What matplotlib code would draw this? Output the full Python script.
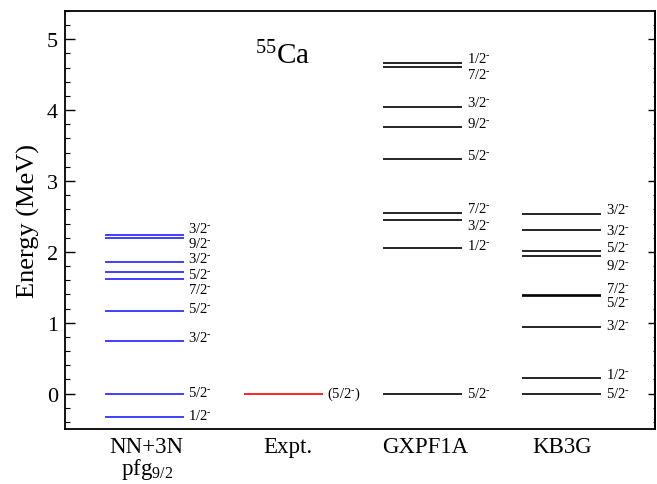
import matplotlib
matplotlib.use("Agg")
import matplotlib.pyplot as plt
from matplotlib.ticker import MultipleLocator

plt.rcParams['font.family'] = ['Liberation Serif', 'DejaVu Serif']
plt.rcParams['mathtext.fontset'] = 'custom'
plt.rcParams['mathtext.rm'] = 'Liberation Serif'
plt.rcParams['mathtext.it'] = 'Liberation Serif:italic'

# level schemes (MeV), spins and where each spin label sits
categories = ["NN+3N\npfg$_{9/2}$", "Expt.", "GXPF1A", "KB3G"]

nn_levels = [2.24, 2.195, 1.85, 1.72, 1.61, 1.17, 0.74, 0.0, -0.33]
nn_spins = ["3/2", "9/2", "3/2", "5/2", "7/2", "5/2", "3/2", "5/2", "1/2"]
nn_label_y = [2.34, 2.13, 1.92, 1.70, 1.49, 1.22, 0.80, 0.03, -0.29]

exp_levels = [0.0]
exp_spins = ["(5/2)"]
exp_label_y = [0.02]

gx_levels = [4.66, 4.61, 4.04, 3.76, 3.31, 2.55, 2.45, 2.05, 0.0]
gx_spins = ["1/2", "7/2", "3/2", "9/2", "5/2", "7/2", "3/2", "1/2", "5/2"]
gx_label_y = [4.74, 4.515, 4.12, 3.83, 3.38, 2.63, 2.39, 2.11, 0.02]

kb_levels = [2.54, 2.31, 2.005, 1.935, 1.39, 1.38, 0.935, 0.225, 0.0]
kb_spins = ["3/2", "3/2", "5/2", "9/2", "7/2", "5/2", "3/2", "1/2", "5/2"]
kb_label_y = [2.62, 2.32, 2.08, 1.82, 1.50, 1.30, 0.97, 0.28, 0.02]

schemes = [
    (nn_levels, nn_spins, nn_label_y, '#1f1fff'),
    (exp_levels, exp_spins, exp_label_y, '#ff0000'),
    (gx_levels, gx_spins, gx_label_y, 'black'),
    (kb_levels, kb_spins, kb_label_y, 'black'),
]

fig = plt.figure(figsize=(6.57, 4.85), dpi=100)
ax = fig.add_axes([0.099, 0.1134, 0.898, 0.862])

half = 0.284   # half width of a level line
gap = 0.032    # space between line end and spin label
sup = r"$^{\text{-}}$"

for i, (lev, spins, laby, col) in enumerate(schemes):
    xc = i + 1
    ax.hlines(lev, xc - half, xc + half, colors=col, lw=1.2)
    for s, ly in zip(spins, laby):
        if s.startswith("("):
            txt = "(" + s[1:-1] + sup + ")"
        else:
            txt = s + sup
        ax.text(xc + half + gap, ly - 0.065, txt, fontsize=10.5,
                ha='left', va='baseline')

ax.text(1.80, 4.665, "$^{55}$Ca", fontsize=21, ha='left', va='baseline')

ax.set_xlim(0.4325, 4.67)
ax.set_ylim(-0.5, 5.4)
ax.set_xticks([1.02, 2.03, 3.02, 4.0])
ax.set_xticklabels(categories, fontsize=16.5, linespacing=0.95)
ax.tick_params(axis='x', length=0, pad=5)

ax.yaxis.set_major_locator(MultipleLocator(1))
ax.yaxis.set_minor_locator(MultipleLocator(0.2))
ax.tick_params(axis='y', which='major', direction='in', length=7.2,
               width=1.0, labelsize=16, pad=5)
ax.tick_params(axis='y', which='minor', direction='in', length=3.6, width=0.8)
ax.set_ylabel("Energy (MeV)", fontsize=19, labelpad=5)

sec = ax.secondary_yaxis('right')
sec.yaxis.set_major_locator(MultipleLocator(1))
sec.yaxis.set_minor_locator(MultipleLocator(0.2))
sec.tick_params(which='major', direction='in', length=5, width=1.0, labelright=False)
sec.tick_params(which='minor', direction='in', length=1.5, width=0.8)
sec.spines['right'].set_linewidth(1.3)

for sp in ax.spines.values():
    sp.set_linewidth(1.3)

fig.savefig("out.png", dpi=100)
